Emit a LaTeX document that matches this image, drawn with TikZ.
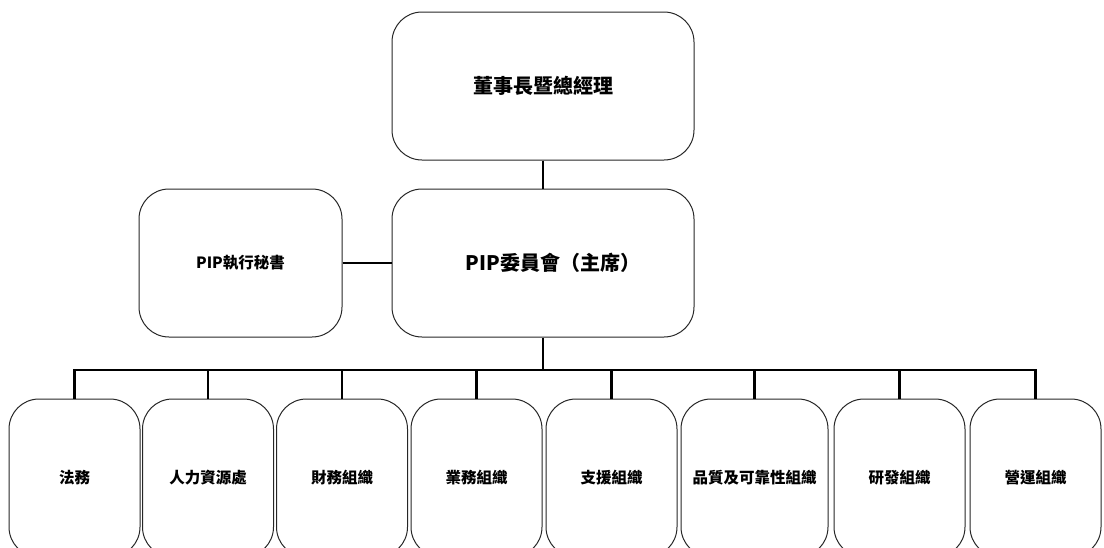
\documentclass[tikz,border=0pt]{standalone}
\usepackage{fontspec}
\setmainfont{Noto Sans CJK TC}
\begin{document}
\begin{tikzpicture}[x=1pt,y=-1pt,
  box/.style={draw=black!85,line width=1pt,rounded corners=30pt,align=center,font=\bfseries,inner sep=0pt},
  bigbox/.style={box,minimum width=302pt,minimum height=148pt,font=\bfseries\fontsize{20}{24}\selectfont},
  unit/.style={box,minimum width=131pt,minimum height=158pt,font=\bfseries\fontsize{15.5}{19}\selectfont},
  link/.style={line width=2.8pt,black}
]
\useasboundingbox (0,0) rectangle (1104,547);
\node[bigbox] (top) at (543,86) {董事長暨總經理};
\node[bigbox] (mid) at (543,263) {\hspace*{20pt}PIP委員會（主席）};
\node[box,minimum width=203pt,minimum height=148pt,font=\bfseries\fontsize{15.5}{19}\selectfont] (sec) at (240.5,263) {PIP執行秘書};
\node[unit] (b1) at (74.5,478) {法務};
\node[unit] (b2) at (208,478) {人力資源處};
\node[unit] (b3) at (342,478) {財務組織};
\node[unit] (b4) at (476.5,478) {業務組織};
\node[unit] (b5) at (611.5,478) {支援組織};
\node[unit,minimum width=147pt] (b6) at (754.5,478) {品質及可靠性組織};
\node[unit] (b7) at (899.5,478) {研發組織};
\node[unit] (b8) at (1035.5,478) {營運組織};
\coordinate (bus) at (543,370);
\draw[link] (top.south) -- (mid.north);
\draw[link,line width=2.2pt] (sec.east) -- (mid.west);
\draw[link] (mid.south) -- (bus);
\draw[link,line cap=rect] (b1.north |- bus) -- (b8.north |- bus);
\foreach \b in {b1,b2,b3,b4,b5,b6,b7,b8}{
  \draw[link,line width=2.4pt] (\b.north) -- (\b.north |- bus);
}
\end{tikzpicture}
\end{document}
